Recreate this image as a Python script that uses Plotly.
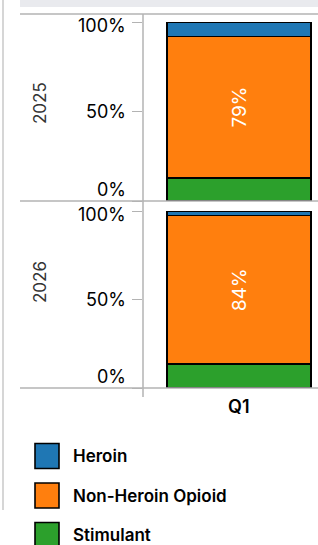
import plotly.graph_objects as go

# ---- data ----
years = ["2025", "2026"]
quarters = ["Q1"]
series_names = ["Stimulant", "Non-Heroin Opioid", "Heroin"]
stimulant = [13, 13.5]
non_heroin_opioid = [79, 84]
heroin = [8, 2.5]
y_ticks = [0, 50, 100]
y_tick_labels = ["0%", "50%", "100%"]
legend_order = ["Heroin", "Non-Heroin Opioid", "Stimulant"]

colors = {"Heroin": "#1f77b4", "Non-Heroin Opioid": "#ff7f0e", "Stimulant": "#2ca02c"}
values = {"Stimulant": stimulant, "Non-Heroin Opioid": non_heroin_opioid, "Heroin": heroin}

W, H = 318, 545
def px_x(x):
    return x / W
def px_y(y):
    return 1 - y / H

FONT = "Inter"
GRID = "#b3b3b3"

fig = go.Figure()

# panel geometry (pixels)
panels = [(22, 201), (211, 388)]
yaxes = ["y", "y2"]

for i, yr in enumerate(years):
    for name in series_names:
        v = values[name][i]
        show_text = name == "Non-Heroin Opioid"
        fig.add_trace(go.Bar(
            x=quarters, y=[v], name=name,
            xaxis="x", yaxis=yaxes[i],
            width=0.75,
            marker=dict(color=colors[name], line=dict(color="black", width=1.6)),
            text=[f"{v:.0f}%"] if show_text else None,
            textposition="inside" if show_text else "none",
            insidetextanchor="middle",
            textangle=-90,
            textfont=dict(family=FONT, size=19, color="white"),
            showlegend=False,
            hoverinfo="skip",
        ))

layout = dict(
    width=W, height=H,
    margin=dict(l=0, r=0, t=0, b=0),
    paper_bgcolor="white", plot_bgcolor="white",
    barmode="stack",
    showlegend=False,
    font=dict(family=FONT, size=16, color="black"),
    xaxis=dict(domain=[px_x(143), 1], range=[-0.5, 0.4114], anchor="y2",
               showgrid=False, showline=False, zeroline=False,
               ticks="", showticklabels=False, fixedrange=True),
)
for i, ya in enumerate(["yaxis", "yaxis2"]):
    top, bot = panels[i]
    layout[ya] = dict(domain=[px_y(bot), px_y(top)], range=[0, 100], anchor="x",
                      showgrid=False, zeroline=False, showline=False,
                      tickvals=y_ticks, ticks="outside", ticklen=10, tickwidth=1,
                      tickcolor=GRID, showticklabels=False, fixedrange=True)
fig.update_layout(**layout)

shapes = []
annotations = []

# top gray band and page frame artifacts
shapes.append(dict(type="rect", xref="paper", yref="paper",
                   x0=px_x(20), x1=1, y0=px_y(7), y1=1,
                   fillcolor="#e9eaee", line=dict(width=0), layer="below"))
shapes.append(dict(type="line", xref="paper", yref="paper",
                   x0=px_x(3), x1=px_x(3), y0=px_y(510), y1=1,
                   line=dict(color="#c8c8c8", width=1.5)))

# row separators
for yy in [14, 201, 388]:
    shapes.append(dict(type="line", xref="paper", yref="paper",
                       x0=px_x(20), x1=1, y0=px_y(yy), y1=px_y(yy),
                       line=dict(color=GRID, width=1.5)))
# vertical axis line
shapes.append(dict(type="line", xref="paper", yref="paper",
                   x0=px_x(143), x1=px_x(143), y0=px_y(397), y1=px_y(14),
                   line=dict(color=GRID, width=1.5)))

# y tick labels (flush at ends)
for i, ya in enumerate(["y", "y2"]):
    for val, lab in zip(y_ticks, y_tick_labels):
        shift = -3.5 if val == 100 else (12 if val == 0 else 0)
        annotations.append(dict(x=px_x(128), xref="paper", y=val, yref=ya,
                                text=lab, showarrow=False, xanchor="right",
                                yanchor="middle", yshift=shift,
                                font=dict(family=FONT, size=18, color="black")))
    # row labels
    annotations.append(dict(x=px_x(40), xref="paper",
                            y=px_y([103, 282][i]), yref="paper",
                            text=years[i], textangle=-90, showarrow=False,
                            xanchor="center", yanchor="middle",
                            font=dict(family=FONT, size=17, color="#333333")))

# x category label
annotations.append(dict(x=quarters[0], xref="x", y=px_y(406), yref="paper",
                        text=quarters[0], showarrow=False, xanchor="center",
                        yanchor="middle",
                        font=dict(family=FONT, size=18, color="black", weight=600)))

# legend
for k, name in enumerate(legend_order):
    cy = 456 + 39.5 * k
    shapes.append(dict(type="rect", xref="paper", yref="paper",
                       x0=px_x(35), x1=px_x(59), y0=px_y(cy + 12.5), y1=px_y(cy - 12.5),
                       fillcolor=colors[name], line=dict(color="black", width=1.6)))
    annotations.append(dict(x=px_x(71), xref="paper", y=px_y(cy), yref="paper",
                            text=name, showarrow=False, xanchor="left", yanchor="middle",
                            font=dict(family=FONT, size=17, color="black", weight=600)))

fig.update_layout(shapes=shapes, annotations=annotations)
fig.write_html("out.html",
               config={"displayModeBar": False, "staticPlot": True},
               post_script="document.body.style.margin='0px';document.body.style.overflow='hidden';")
